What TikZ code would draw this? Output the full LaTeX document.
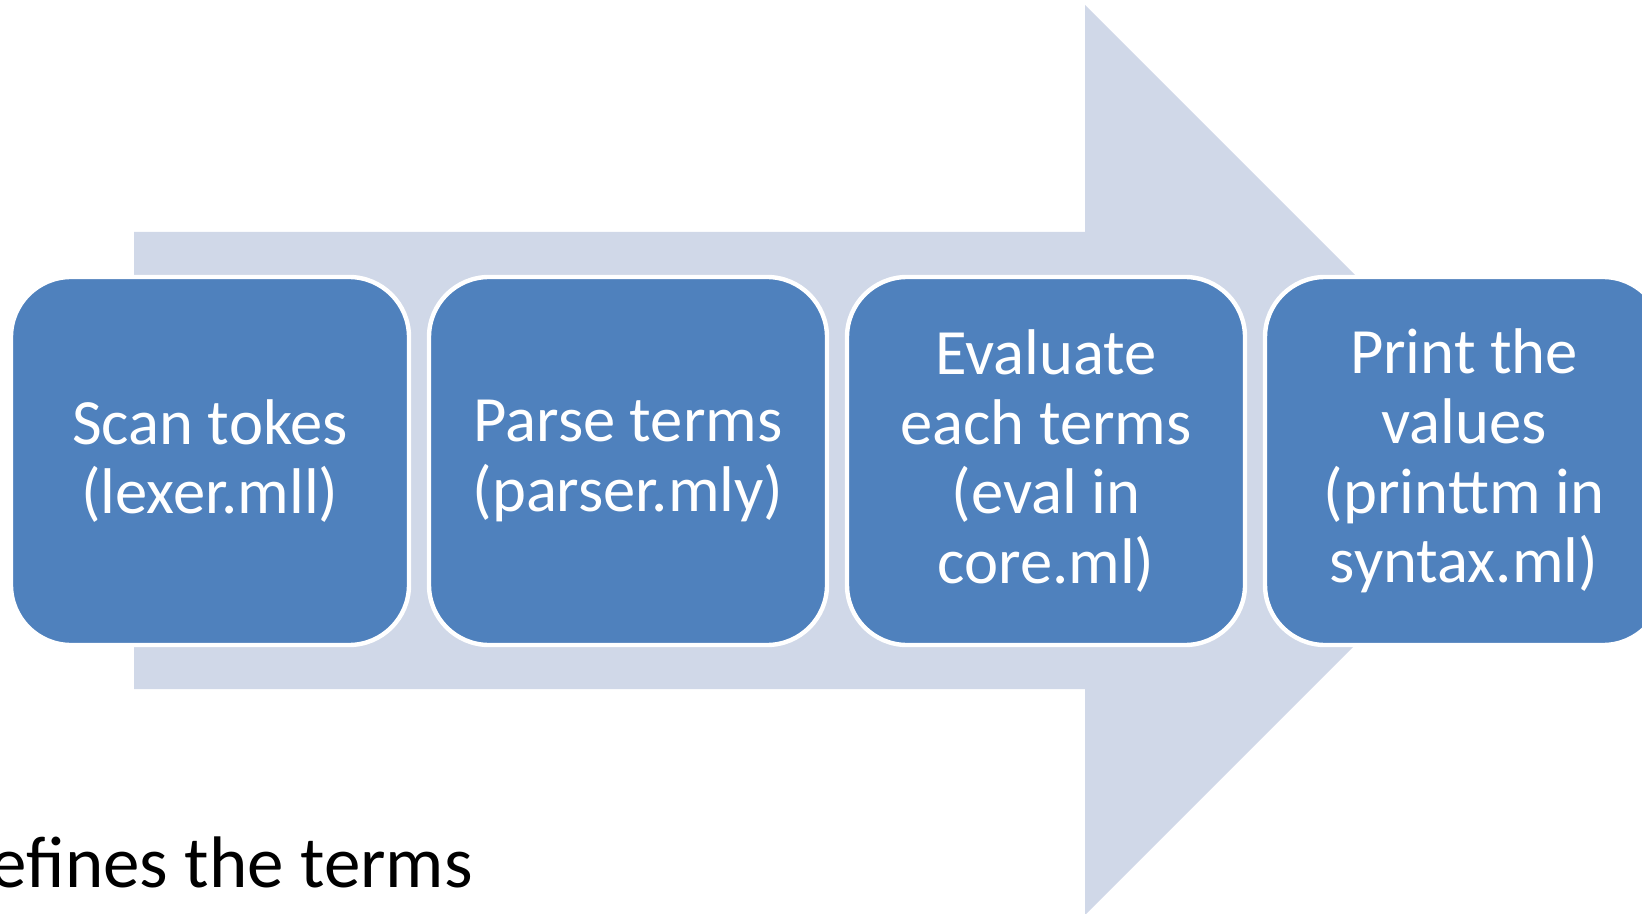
\documentclass[tikz,border=0pt]{standalone}
\usepackage{fontspec}
\setmainfont{Carlito}
\usepackage{tikz}
\usetikzlibrary{shapes,shapes.misc}
\definecolor{arrowfill}{HTML}{D0D8E8}
\definecolor{stepfill}{HTML}{4F81BD}
\begin{document}
\begin{tikzpicture}[x=0.5pt,y=-0.5pt]
   \useasboundingbox (0,0) rectangle (1642,914);
   \clip (0,0) rectangle (1642,914);
   \tikzstyle{main}=[rectangle, rounded corners=30pt, fill=stepfill, draw=white, line width=2.2pt,
      minimum width=199pt, minimum height=184pt, text=white, align=center,
      font=\fontsize{32.3}{34.8}\selectfont]
   % big arrow behind the boxes
   \fill[arrowfill] (134,232) -- (1085,232) -- (1085,5) -- (1540,460)
      -- (1085,915) -- (1085,689) -- (134,689) -- cycle;
   \foreach \name/\x/\word in {scan/210/{Scan tokes\\(lexer.mll)},
         parse/628/{Parse terms\\(parser.mly)},
         eval/1046/{Evaluate\\each terms\\(eval in\\core.ml)},
         print/1464/{Print the\\values\\(printtm in\\syntax.ml)}} {
       \node[main] (\name) at (\x,461) {\word};
   }
   \node[anchor=base east, inner sep=0pt, font=\fontsize{36.5}{40}\selectfont] (defines) at (473,887) {efines the terms};
\end{tikzpicture}
\end{document}
